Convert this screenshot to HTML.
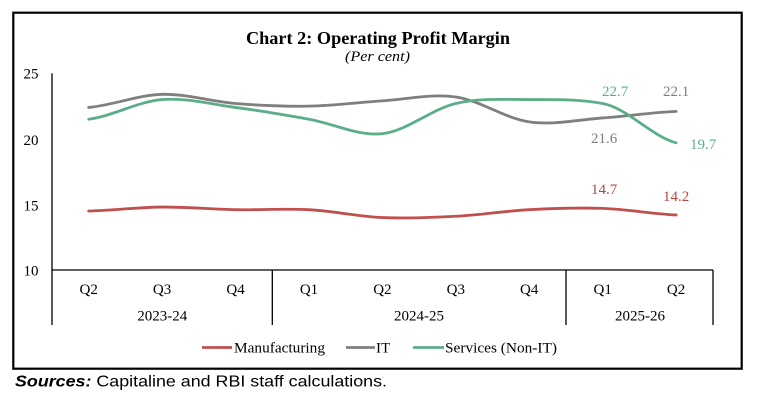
<!DOCTYPE html>
<html>
<head>
<meta charset="utf-8">
<style>
  html, body { margin: 0; padding: 0; background: #ffffff; }
  body { width: 772px; height: 406px; overflow: hidden; }
  svg { display: block; }
</style>
</head>
<body>
<svg width="772" height="406" viewBox="0 0 772 406" xmlns="http://www.w3.org/2000/svg">
  <rect x="0" y="0" width="772" height="406" fill="#ffffff"/>
  <!-- outer border -->
  <rect x="13.3" y="12.7" width="728.4" height="356" fill="none" stroke="#000" stroke-width="2.2"/>

  <!-- title -->
  <text x="246" y="44" font-family="'Liberation Serif', serif" font-weight="bold" font-size="18" textLength="264" lengthAdjust="spacingAndGlyphs" fill="#000">Chart 2: Operating Profit Margin</text>
  <text x="345" y="61" font-family="'Liberation Serif', serif" font-style="italic" font-size="15" textLength="65" lengthAdjust="spacingAndGlyphs" fill="#000">(Per cent)</text>

  <!-- y axis labels -->
  <g font-family="'Liberation Serif', serif" font-size="15" fill="#000" text-anchor="end">
    <text x="38.5" y="78.5">25</text>
    <text x="38.5" y="145">20</text>
    <text x="38.5" y="210.5">15</text>
    <text x="38.5" y="275.5">10</text>
  </g>

  <!-- axes -->
  <g stroke="#000" stroke-width="1.3" fill="none">
    <line x1="52" y1="73.3" x2="52" y2="325"/>
    <line x1="52" y1="270" x2="713" y2="270"/>
    <line x1="272.3" y1="270" x2="272.3" y2="325"/>
    <line x1="566" y1="270" x2="566" y2="325"/>
    <line x1="713" y1="270" x2="713" y2="325"/>
  </g>

  <!-- x category labels -->
  <g font-family="'Liberation Serif', serif" font-size="15" fill="#000" text-anchor="middle">
    <text x="88.7" y="294">Q2</text>
    <text x="162.1" y="294">Q3</text>
    <text x="235.6" y="294">Q4</text>
    <text x="309" y="294">Q1</text>
    <text x="382.4" y="294">Q2</text>
    <text x="455.8" y="294">Q3</text>
    <text x="529.2" y="294">Q4</text>
    <text x="602.7" y="294">Q1</text>
    <text x="676.1" y="294">Q2</text>
    <text x="162.3" y="320.5">2023-24</text>
    <text x="419" y="320.5">2024-25</text>
    <text x="640" y="320.5">2025-26</text>
  </g>

  <!-- series -->
  <g fill="none" stroke-width="2.8" stroke-linecap="round" stroke-linejoin="round">
    <!-- IT (gray) -->
    <path stroke="#7f7f7f" d="M88.7,107.44
      C113.17,105.26 137.63,94.99 162.1,94.33
      C186.57,93.67 211.13,101.54 235.6,103.50
      C260.07,105.47 284.53,106.56 309.0,106.12
      C333.47,105.68 357.93,102.41 382.4,100.88
      C406.87,99.35 431.33,93.45 455.8,96.95
      C480.27,100.45 504.73,118.37 529.2,121.86
      C553.67,125.36 578.23,119.67 602.7,117.92
      C627.17,116.17 651.63,112.46 676.1,111.37"/>
    <!-- Services (Non-IT) (green) -->
    <path stroke="#5cae88" d="M88.7,119.23
      C113.17,115.95 137.63,101.54 162.1,99.57
      C186.57,97.61 211.13,104.16 235.6,107.44
      C260.07,110.72 284.53,114.86 309.0,119.23
      C333.47,123.60 357.93,136.28 382.4,133.66
      C406.87,131.04 431.33,109.18 455.8,103.50
      C480.27,97.82 504.73,99.57 529.2,99.57
      C553.67,99.57 578.23,99.0 602.7,103.50
      C627.17,108.0 651.63,136.28 676.1,142.83"/>
    <!-- Manufacturing (red) -->
    <path stroke="#c0504d" d="M88.7,211.00
      C113.17,210.35 137.63,207.29 162.1,207.07
      C186.57,206.85 211.13,209.25 235.6,209.69
      C260.07,210.13 284.53,208.38 309.0,209.69
      C333.47,211.00 357.93,216.47 382.4,217.56
      C406.87,218.65 431.33,217.56 455.8,216.25
      C480.27,214.94 504.73,211.00 529.2,209.69
      C553.67,208.38 578.23,207.51 602.7,208.38
      C627.17,209.25 651.63,213.85 676.1,214.94"/>
  </g>

  <!-- data labels -->
  <g font-family="'Liberation Serif', serif" font-size="15">
    <text x="602" y="96" fill="#5cae88">22.7</text>
    <text x="663" y="96" fill="#7f7f7f">22.1</text>
    <text x="591" y="143" fill="#7f7f7f">21.6</text>
    <text x="690" y="149" fill="#5cae88">19.7</text>
    <text x="591" y="194" fill="#b84543">14.7</text>
    <text x="663" y="201" fill="#b84543">14.2</text>
  </g>

  <!-- legend -->
  <g stroke-width="2.8">
    <line x1="202" y1="347.5" x2="232" y2="347.5" stroke="#c0504d"/>
    <line x1="346" y1="347.5" x2="375" y2="347.5" stroke="#7f7f7f"/>
    <line x1="413" y1="347.5" x2="444" y2="347.5" stroke="#5cae88"/>
  </g>
  <g font-family="'Liberation Serif', serif" font-size="15" fill="#000">
    <text x="234" y="352.5" textLength="91" lengthAdjust="spacingAndGlyphs">Manufacturing</text>
    <text x="376" y="352.5">IT</text>
    <text x="445" y="352.5" textLength="112" lengthAdjust="spacingAndGlyphs">Services (Non-IT)</text>
  </g>

  <!-- sources -->
  <text x="15" y="386.5" font-family="'Liberation Sans', Arial, sans-serif" font-size="16" fill="#000" textLength="372" lengthAdjust="spacingAndGlyphs"><tspan font-weight="bold" font-style="italic">Sources:</tspan> Capitaline and RBI staff calculations.</text>
</svg>
</body>
</html>
